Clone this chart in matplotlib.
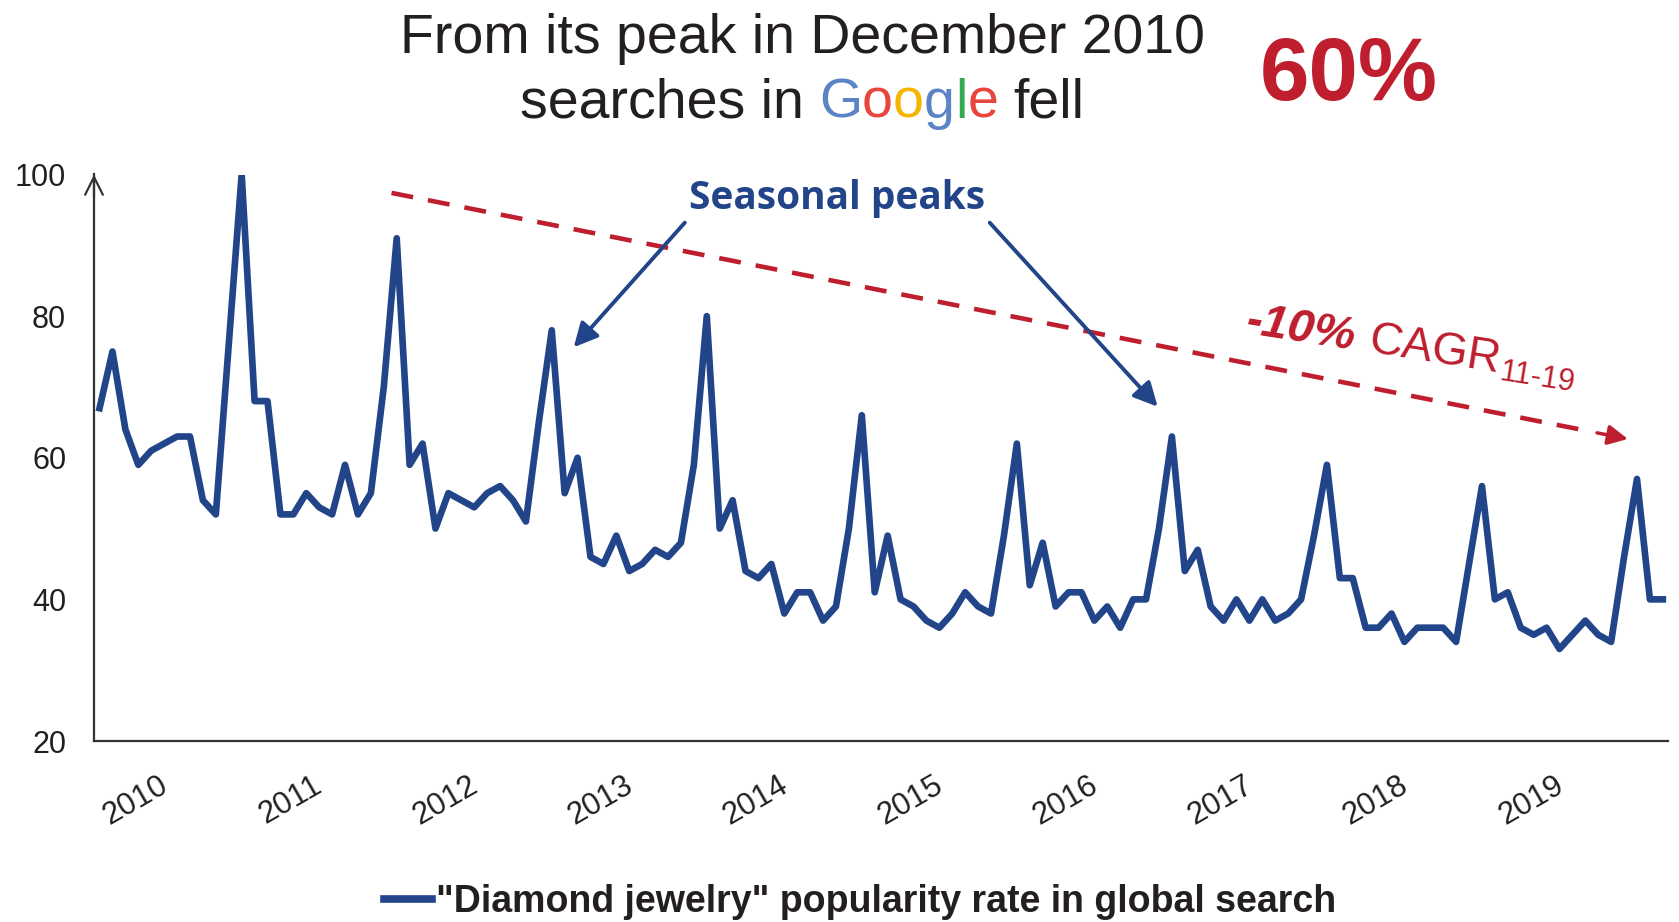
import numpy as np
import matplotlib.pyplot as plt
from matplotlib.lines import Line2D

# monthly search popularity, Jan 2010 .. Feb 2020
values = [67, 75, 64, 59, 61, 62, 63, 63, 54, 52, 76, 100,
          68, 68, 52, 52, 55, 53, 52, 59, 52, 55, 70, 91,
          59, 62, 50, 55, 54, 53, 55, 56, 54, 51, 65, 78,
          55, 60, 46, 45, 49, 44, 45, 47, 46, 48, 59, 80,
          50, 54, 44, 43, 45, 38, 41, 41, 37, 39, 50, 66,
          41, 49, 40, 39, 37, 36, 38, 41, 39, 38, 49, 62,
          42, 48, 39, 41, 41, 37, 39, 36, 40, 40, 50, 63,
          44, 47, 39, 37, 40, 37, 40, 37, 38, 40, 49, 59,
          43, 43, 36, 36, 38, 34, 36, 36, 36, 34, 45, 56,
          40, 41, 36, 35, 36, 33, 35, 37, 35, 34, 46, 57,
          40, 40]
years = [str(y) for y in range(2010, 2020)]
yticks = [20, 40, 60, 80, 100]
google_letters = ['G', 'o', 'o', 'g', 'l', 'e']
google_colors = ['#5A84C6', '#E8453C', '#F4B400', '#5A84C6', '#34A853', '#E8453C']

BLUE = '#22458A'
RED = '#BE1E2D'
DARK = '#231F20'
FONT = 'Liberation Sans'

plt.rcParams['font.family'] = FONT

W, H = 1679, 922
fig = plt.figure(figsize=(W / 100, H / 100), dpi=100)
ax = fig.add_axes([94 / W, 1 - 741 / H, (1668 - 94) / W, (741 - 174.5) / H])

months = np.arange(len(values))
ax.plot(months, values, color=BLUE, lw=4.8, solid_joinstyle='round')
ax.set_xlim(-0.43, 121.4)
ax.set_ylim(20, 100)

for s in ['top', 'right']:
    ax.spines[s].set_visible(False)
for s in ['left', 'bottom']:
    ax.spines[s].set_color('#333333')
    ax.spines[s].set_linewidth(1.6)
ax.annotate('', xy=(0, 1.0), xytext=(0, 0.96), xycoords='axes fraction',
            arrowprops=dict(arrowstyle='->', color='#333333', lw=1.6,
                            mutation_scale=32, shrinkA=0, shrinkB=0))

ax.set_yticks(yticks)
ax.set_yticklabels([str(v) for v in yticks], fontsize=22, color=DARK)
ax.tick_params(axis='y', length=0, pad=20)
ax.set_xticks([2.8 + 12 * i for i in range(len(years))])
ax.set_xticklabels(years, fontsize=22.5, color=DARK, rotation=30, ha='center')
ax.tick_params(axis='x', length=0, pad=21)

# trend line
tx0, ty0 = 22.6, 97.4
tx1, ty1 = 118.3, 62.65
fr = 0.965
ax.plot([tx0, tx0 + (tx1 - tx0) * fr], [ty0, ty0 + (ty1 - ty0) * fr],
        color=RED, lw=3.3, linestyle=(0, (4.8, 3.3)), clip_on=False)
ax.annotate('', xy=(tx1, ty1), xytext=(tx0 + (tx1 - tx0) * 0.975, ty0 + (ty1 - ty0) * 0.975),
            arrowprops=dict(arrowstyle='-|>', color=RED, lw=2.5, mutation_scale=30,
                            shrinkA=0, shrinkB=0), annotation_clip=False)

# seasonal peaks
ax.text(57.05, 95.1, 'Seasonal peaks', fontsize=28, fontweight='bold', color=BLUE,
        family='Open Sans', ha='center', va='baseline', clip_on=False)
for (x0, y0, x1, y1) in [(45.3, 93.2, 36.7, 75.6), (68.9, 93.2, 81.9, 67.2)]:
    ax.annotate('', xy=(x1, y1), xytext=(x0, y0), annotation_clip=False,
                arrowprops=dict(arrowstyle='-|>', color=BLUE, lw=2.8,
                                mutation_scale=36, shrinkA=0, shrinkB=0))

renderer = fig.canvas.get_renderer()


def text_width(s, **kw):
    t = fig.text(0, 0, s, **kw)
    w = t.get_window_extent(renderer).width
    t.remove()
    return w


# title
fig.text(802 / W, 1 - 53 / H, 'From its peak in December 2010', fontsize=40,
         color=DARK, ha='center', va='baseline')
space = text_width('a a', fontsize=40) - text_width('aa', fontsize=40)
pieces = [('searches in', DARK)] + [(' ', None)] + \
    list(zip(google_letters, google_colors)) + [(' ', None), ('fell', DARK)]
widths = [space if p == ' ' else text_width(p, fontsize=40) for p, c in pieces]
x = 802 - sum(widths) / 2
for (p, c), w in zip(pieces, widths):
    if p != ' ':
        fig.text(x / W, 1 - 118 / H, p, fontsize=40, color=c, ha='left', va='baseline')
    x += w

fig.text(1260 / W, 1 - 100 / H, '60%', fontsize=64, fontweight='bold', color=RED,
         ha='left', va='baseline')

# CAGR label along the trend
ang = -9
th = np.deg2rad(ang)
d = np.array([np.cos(th), np.sin(th)])
perp = np.array([np.sin(th), -np.cos(th)])
pos = np.array([1245.0, H - 333.0])
parts = [('-10%', dict(fontsize=34, fontweight='bold', fontstyle='italic'), 0, 14),
         ('CAGR', dict(fontsize=33), 0, 1),
         ('11-19', dict(fontsize=22), 7, 0)]
for s, kw, drop, gap in parts:
    p = pos + perp * drop
    fig.text(p[0] / W, p[1] / H, s, color=RED, rotation=ang, rotation_mode='anchor',
             ha='left', va='baseline', **kw)
    pos = pos + d * (text_width(s, **kw) + gap)

# legend
handle = Line2D([], [], color=BLUE, lw=5.5)
fig.legend([handle], ['"Diamond jewelry" popularity rate in global search'],
           loc='center', bbox_to_anchor=(860 / W, 1 - 902 / H), frameon=False,
           prop=dict(family=FONT, weight='bold', size=27), handlelength=1.3,
           handletextpad=0.1, labelcolor=DARK)

fig.savefig('out.png', dpi=100)
